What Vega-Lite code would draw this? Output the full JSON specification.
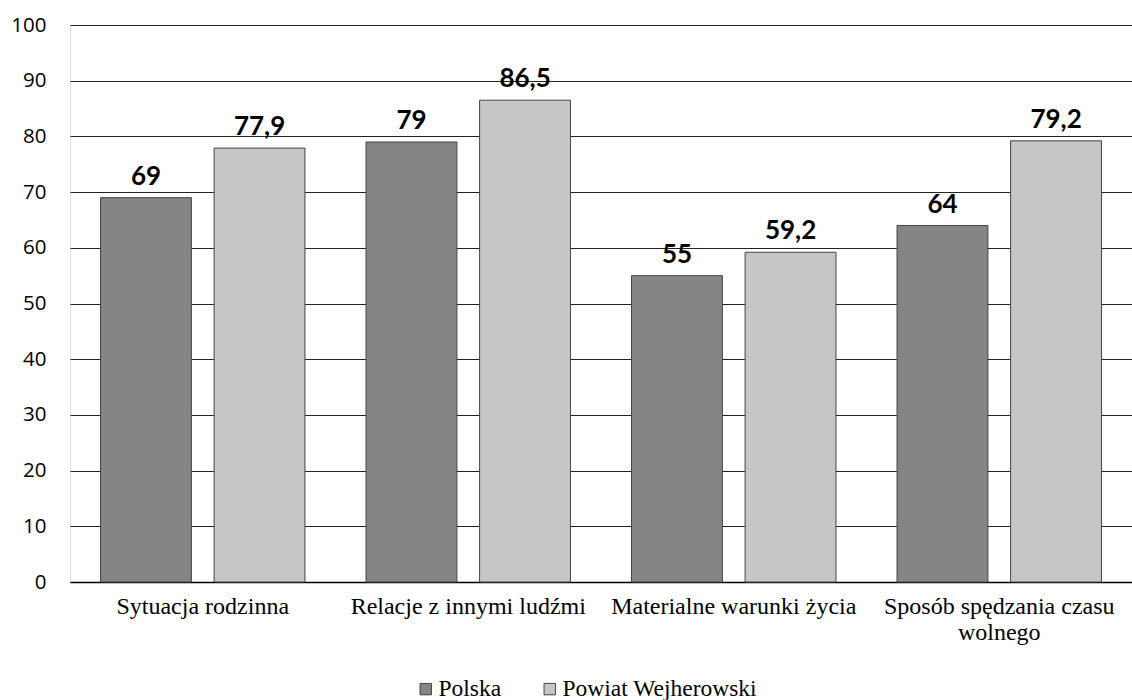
{
  "$schema": "https://vega.github.io/schema/vega-lite/v6.json",
  "autosize": {"type": "none"},
  "width": 1062,
  "height": 557,
  "padding": {"left": 70, "top": 25, "right": 0, "bottom": 118},
  "background": "white",
  "data": {
    "values": [
      {"kategoria": "Sytuacja rodzinna", "seria": "Polska", "wartosc": 69, "etykieta": "69"},
      {"kategoria": "Sytuacja rodzinna", "seria": "Powiat Wejherowski", "wartosc": 77.9, "etykieta": "77,9"},
      {"kategoria": "Relacje z innymi ludźmi", "seria": "Polska", "wartosc": 79, "etykieta": "79"},
      {"kategoria": "Relacje z innymi ludźmi", "seria": "Powiat Wejherowski", "wartosc": 86.5, "etykieta": "86,5"},
      {"kategoria": "Materialne warunki życia", "seria": "Polska", "wartosc": 55, "etykieta": "55"},
      {"kategoria": "Materialne warunki życia", "seria": "Powiat Wejherowski", "wartosc": 59.2, "etykieta": "59,2"},
      {"kategoria": "Sposób spędzania czasu wolnego", "seria": "Polska", "wartosc": 64, "etykieta": "64"},
      {"kategoria": "Sposób spędzania czasu wolnego", "seria": "Powiat Wejherowski", "wartosc": 79.2, "etykieta": "79,2"}
    ]
  },
  "encoding": {
    "x": {
      "field": "kategoria", "type": "nominal", "sort": null,
      "scale": {"paddingInner": 0.23, "paddingOuter": 0.115},
      "axis": {
        "title": null, "labelAngle": 0, "ticks": false, "domain": true,
        "domainColor": "#000000", "domainWidth": 1.5,
        "labelFont": "Liberation Serif", "labelFontSize": 24, "labelColor": "#000000",
        "labelPadding": 12, "labelLimit": 320, "labelLineHeight": 26,
        "labelExpr": "datum.label == 'Sposób spędzania czasu wolnego' ? ['Sposób spędzania czasu', 'wolnego'] : datum.label"
      }
    },
    "xOffset": {"field": "seria", "type": "nominal", "scale": {"paddingInner": 0.2}},
    "y": {
      "field": "wartosc", "type": "quantitative",
      "scale": {"domain": [0, 100]},
      "axis": {
        "title": null, "values": [0,10,20,30,40,50,60,70,80,90,100],
        "ticks": false, "domain": false, "grid": true,
        "gridColor": "#222222", "gridWidth": 1.2,
        "labelFont": "Open Sans", "labelFontSize": 20.5, "labelColor": "#000000",
        "labelPadding": 24
      }
    }
  },
  "layer": [
    {
      "mark": {"type": "bar", "stroke": "#444444", "strokeWidth": 1},
      "encoding": {
        "color": {
          "field": "seria", "type": "nominal",
          "scale": {"domain": ["Polska", "Powiat Wejherowski"], "range": ["#858585", "#c6c6c6"]},
          "legend": {
            "title": null, "orient": "none", "direction": "horizontal",
            "legendX": 344, "legendY": 652,
            "symbolType": "square", "symbolSize": 130, "symbolStrokeColor": "#444444", "symbolStrokeWidth": 1,
            "labelFont": "Liberation Serif", "labelFontSize": 23.5, "labelColor": "#000000",
            "labelOffset": 1, "labelLimit": 400, "columnPadding": 36
          }
        }
      }
    },
    {
      "mark": {"type": "text", "baseline": "bottom", "dy": -8, "font": "Lato", "fontWeight": "bold", "fontSize": 26, "color": "#000000"},
      "encoding": {
        "text": {"field": "etykieta"}
      }
    }
  ]
}
